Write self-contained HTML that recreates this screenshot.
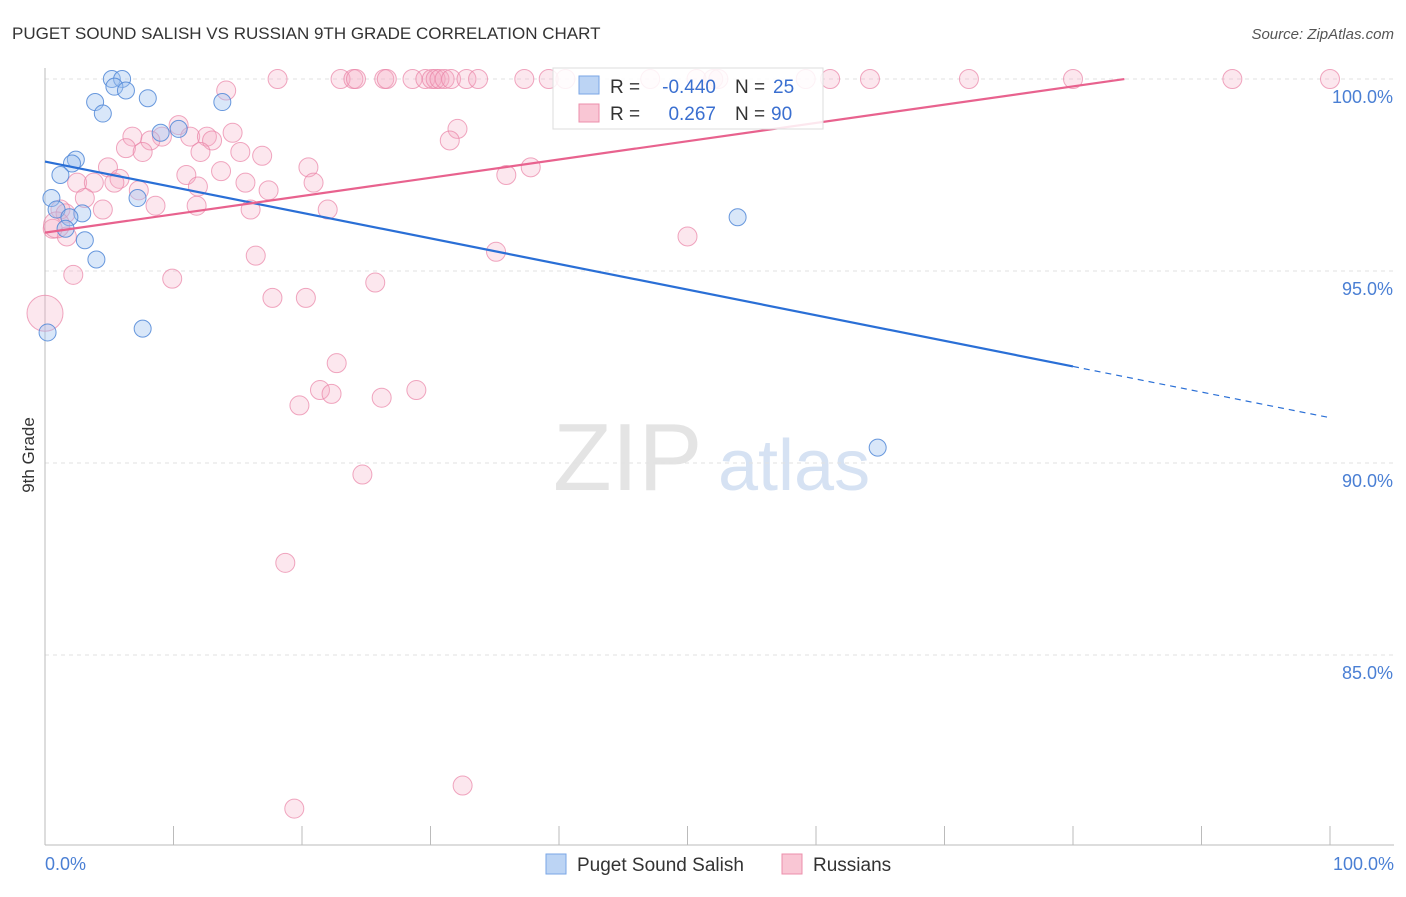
<!DOCTYPE html>
<html><head><meta charset="utf-8"><style>
body{margin:0;background:#fff;font-family:"Liberation Sans",sans-serif}
svg text{font-family:"Liberation Sans",sans-serif}
</style></head><body>
<svg width="1406" height="892">
<text x="12" y="39" font-size="17" fill="#333">PUGET SOUND SALISH VS RUSSIAN 9TH GRADE CORRELATION CHART</text>
<text x="1394" y="39" font-size="15" fill="#555" font-style="italic" text-anchor="end">Source: ZipAtlas.com</text>
<text x="553" y="490" font-size="96" fill="#e4e4e4" font-family="Liberation Serif">ZIP</text>
<text x="718" y="490" font-size="72" fill="#d6e2f3">atlas</text>
<g id="grid"></g><g id="axes"></g><g id="pts"></g><g id="trends"></g>
<text transform="translate(34,455) rotate(-90)" font-size="17" fill="#333" text-anchor="middle">9th Grade</text>
<text x="45" y="870" font-size="18" fill="#4a7fd4">0.0%</text>
<text x="1394" y="870" font-size="18" fill="#4a7fd4" text-anchor="end">100.0%</text>
<g>
<rect x="553" y="68" width="270" height="61" fill="rgba(255,255,255,0.85)" stroke="#ddd"/>
<rect x="579" y="76" width="20" height="18" fill="#bcd4f4" stroke="#7aa6e6"/>
<text x="610" y="93" font-size="19" fill="#333">R =</text>
<text x="716" y="93" font-size="19" fill="#3a6fd0" text-anchor="end">-0.440</text>
<text x="735" y="93" font-size="19" fill="#333">N =</text>
<text x="773" y="93" font-size="19" fill="#3a6fd0">25</text>
<rect x="579" y="104" width="20" height="18" fill="#f9c6d4" stroke="#ec8fab"/>
<text x="610" y="120" font-size="19" fill="#333">R =</text>
<text x="716" y="120" font-size="19" fill="#3a6fd0" text-anchor="end">0.267</text>
<text x="735" y="120" font-size="19" fill="#333">N =</text>
<text x="771" y="120" font-size="19" fill="#3a6fd0">90</text>
</g>
<g>
<rect x="546" y="854" width="20" height="20" fill="#bcd4f4" stroke="#7aa6e6"/>
<text x="577" y="871" font-size="19" fill="#333">Puget Sound Salish</text>
<rect x="782" y="854" width="20" height="20" fill="#f9c6d4" stroke="#ec8fab"/>
<text x="813" y="871" font-size="19" fill="#333">Russians</text>
</g>
</svg>
<script>
const yTicks=[100,95,90,85];
const xTicks=[0,10,20,30,40,50,60,70,80,90,100];
const blueX=[5.2,6.0,5.4,6.3,3.9,4.5,8.0,13.8,10.4,9.0,2.4,2.1,1.2,0.5,7.2,0.9,2.9,1.9,1.6,3.1,4.0,7.6,0.2,53.9,64.8];
const blueY=[100,100,99.8,99.7,99.4,99.1,99.5,99.4,98.7,98.6,97.9,97.8,97.5,96.9,96.9,96.6,96.5,96.4,96.1,95.8,95.3,93.5,93.4,96.4,90.4];
const pinkX=[18.1,23.0,24.0,24.2,26.4,26.6,28.6,29.6,30.1,30.4,30.7,31.1,31.6,32.8,33.7,37.3,39.2,40.5,47.1,50.7,52.0,52.4,59.2,61.1,64.2,71.9,80.0,92.4,100,14.1,
32.1,10.4,6.8,9.1,11.3,12.6,13.0,14.6,8.2,6.3,7.6,12.1,15.2,16.9,4.9,13.7,20.5,5.8,11.0,2.5,3.8,5.4,20.9,15.6,17.4,7.3,3.1,8.6,11.8,16.0,4.5,22.0,1.2,1.6,37.8,35.9,50.0,35.1,16.4,1.7,0.6,2.2,9.9,25.7,17.7,20.3,0,22.7,21.4,22.3,19.8,26.2,28.9,24.7,18.7,32.5,19.4,11.9,31.5,0.9];
const pinkY=[100,100,100,100,100,100,100,100,100,100,100,100,100,100,100,100,100,100,100,100,100,100,100,100,100,100,100,100,100,99.7,
98.7,98.8,98.5,98.5,98.5,98.5,98.4,98.6,98.4,98.2,98.1,98.1,98.1,98.0,97.7,97.6,97.7,97.4,97.5,97.3,97.3,97.3,97.3,97.3,97.1,97.1,96.9,96.7,96.7,96.6,96.6,96.6,96.6,96.5,97.7,97.5,95.9,95.5,95.4,95.9,96.1,94.9,94.8,94.7,94.3,94.3,93.9,92.6,91.9,91.8,91.5,91.7,91.9,89.7,87.4,81.6,81.0,97.2,98.4,96.2];
const NS='http://www.w3.org/2000/svg';
const X=v=>45+v*12.85, Y=v=>79+(100-v)*38.4;
function mk(p,t,a){const e=document.createElementNS(NS,t);for(const k in a)e.setAttribute(k,a[k]);document.getElementById(p).appendChild(e);return e;}
yTicks.forEach(t=>{
 const l=mk('grid','line',{x1:45,x2:1394,y1:Y(t),y2:Y(t),stroke:'#e2e2e2','stroke-dasharray':'4,4'});
 
 
 const tx=mk('grid','text',{x:1393,y:Y(t)+24,'font-size':18,fill:'#4a7fd4','text-anchor':'end'});
 tx.textContent=t.toFixed(1)+'%';
 
 
});
const ax=mk('axes','line',{x1:45,x2:45,y1:68,y2:845,stroke:'#bbb'});


const bx=mk('axes','line',{x1:45,x2:1394,y1:845,y2:845,stroke:'#bbb'});


xTicks.forEach(t=>{const l=mk('axes','line',{x1:X(t),x2:X(t),y1:826,y2:845,stroke:'#bbb'});
 
 });
pinkX.forEach((v,i)=>{const r=(i==pinkX.length-14)?18:(i==pinkX.length-1?13:9.5);
 const c=mk('pts','circle',{cx:X(v),cy:Y(pinkY[i]),r:r,fill:'rgba(246,170,195,0.28)',stroke:'rgba(234,130,165,0.7)','stroke-width':1});
 
 });
blueX.forEach((v,i)=>{const c=mk('pts','circle',{cx:X(v),cy:Y(blueY[i]),r:8.5,fill:'rgba(160,195,240,0.4)',stroke:'rgba(80,135,215,0.85)','stroke-width':1});
 
 });
const b0=97.85,b1=-0.0667,p0=96.0,p1=0.0476;
const t1=mk('trends','line',{x1:X(0),y1:Y(b0),x2:X(80),y2:Y(b0+b1*80),stroke:'#2a6fd6','stroke-width':2.2});


const t2=mk('trends','line',{x1:X(80),y1:Y(b0+b1*80),x2:X(100),y2:Y(b0+b1*100),stroke:'#2a6fd6','stroke-width':1.2,'stroke-dasharray':'6,5'});


const t3=mk('trends','line',{x1:X(0),y1:Y(p0),x2:X(84),y2:Y(p0+p1*84),stroke:'#e8628e','stroke-width':2.2});


</script>
</body></html>
